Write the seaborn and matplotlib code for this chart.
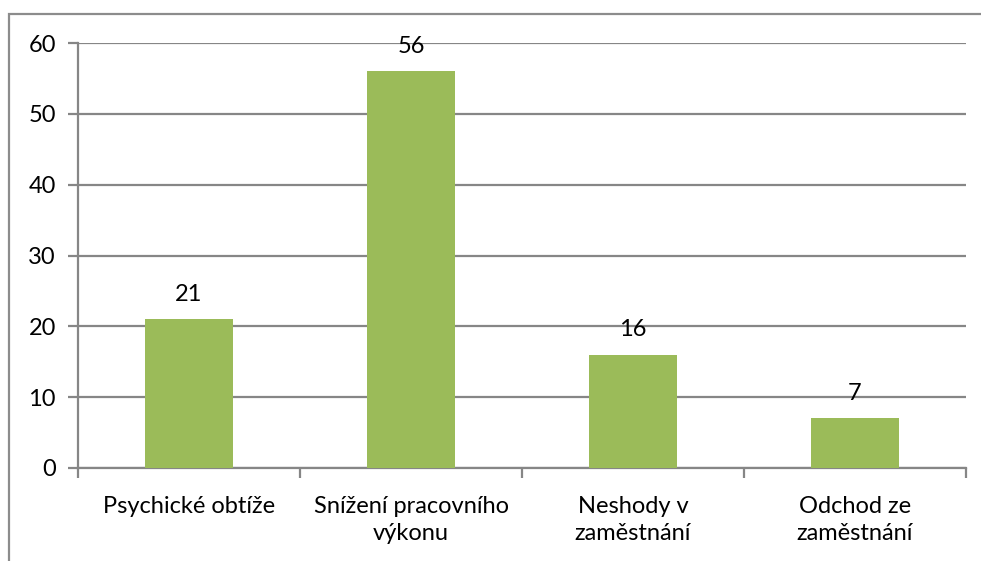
import matplotlib
matplotlib.use('Agg')
import matplotlib.pyplot as plt
import seaborn as sns
import pandas as pd
from matplotlib.patches import Rectangle

# data
categories = ['Psychické obtíže', 'Snížení pracovního\nvýkonu', 'Neshody v\nzaměstnání', 'Odchod ze\nzaměstnání']
values = [21, 56, 16, 7]
yticks = [0, 10, 20, 30, 40, 50, 60]

df = pd.DataFrame({'kategorie': categories, 'pocet': values})

sns.set_style('white')
plt.rcParams['font.family'] = ['Lato', 'DejaVu Sans']
plt.rcParams['text.color'] = 'black'

W, H = 981, 561
fig = plt.figure(figsize=(W / 100, H / 100), dpi=100)
ax = fig.add_axes([78 / W, 1 - 468 / H, (966 - 78) / W, (468 - 43) / H])

sns.barplot(data=df, x='kategorie', y='pocet', color='#9BBB59', saturation=1,
            width=0.4, linewidth=0, ax=ax, zorder=3)

grid_col = '#868686'
ax.set_ylim(0, 60)
ax.set_xlim(-0.5, len(categories) - 0.5)
ax.set_yticks(yticks)
ax.yaxis.grid(True, color=grid_col, linewidth=1.6, zorder=0)
ax.set_axisbelow(True)

for side in ['top', 'right']:
    ax.spines[side].set_visible(False)
for side in ['left', 'bottom']:
    ax.spines[side].set_color(grid_col)
    ax.spines[side].set_linewidth(1.6)

ax.tick_params(axis='y', length=7, width=1.6, color=grid_col, labelsize=17,
               labelcolor='black', pad=9, left=True)
# category boundary ticks on the x axis
ax.set_xticks([i - 0.5 for i in range(len(categories) + 1)], minor=False)
ax.set_xticklabels([])
ax.set_xticks(range(len(categories)), minor=True)
ax.set_xticklabels(categories, minor=True, fontsize=17, linespacing=1.35, color='black')
ax.tick_params(axis='x', which='major', length=7, width=1.6, color=grid_col, bottom=True)
ax.tick_params(axis='x', which='minor', length=0, pad=20)
ax.set_xlabel('')
ax.set_ylabel('')

for i, v in enumerate(values):
    ax.text(i, v + 2.0, str(v), ha='center', va='bottom', fontsize=17, color='black')

# chart border (only left and top edges fall inside the picture)
fig.patches.append(Rectangle((9 / W, -0.1), 1.2, 1 - 14 / H + 0.1, transform=fig.transFigure,
                             fill=False, edgecolor='#8C8C8C', linewidth=1.6))

fig.savefig('out.png', dpi=100)
